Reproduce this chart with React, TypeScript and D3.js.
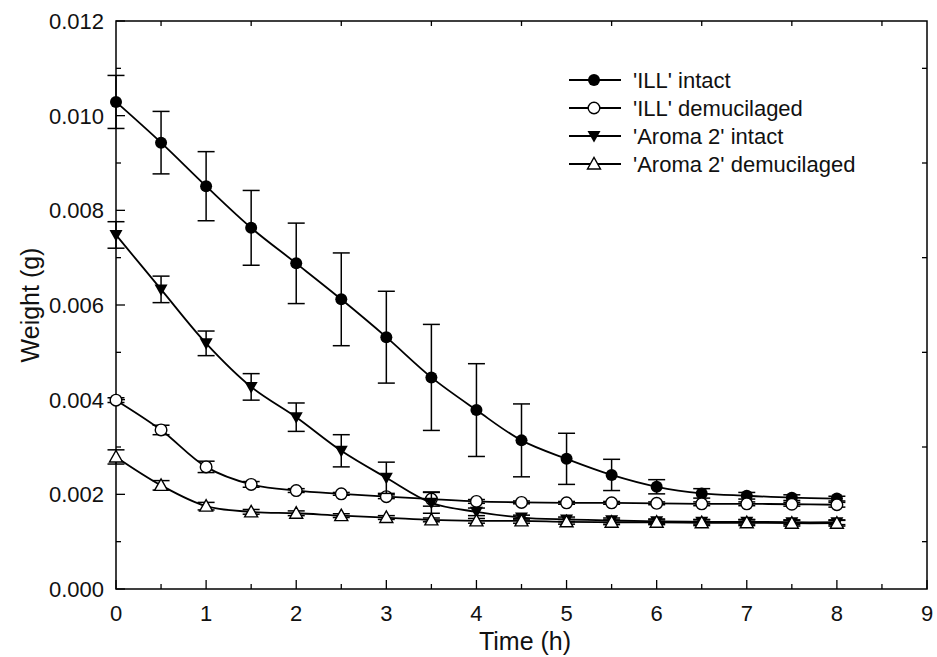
import React from "react";
import * as d3 from "d3";

const times = [0, 0.5, 1, 1.5, 2, 2.5, 3, 3.5, 4, 4.5, 5, 5.5, 6, 6.5, 7, 7.5, 8];

const illIntact = [0.01029, 0.00943, 0.00851, 0.00763, 0.00688, 0.00612, 0.00532, 0.00447, 0.00378, 0.00314, 0.00275, 0.00241, 0.00216, 0.00202, 0.00197, 0.00193, 0.00191];
const illIntactErr = [0.00056, 0.00066, 0.00073, 0.00079, 0.00085, 0.00098, 0.00097, 0.00112, 0.00098, 0.00077, 0.00054, 0.00033, 0.00015, 0.0001, 0.00007, 0.00006, 0.00005];

const illDemuc = [0.00399, 0.00336, 0.00258, 0.00221, 0.00208, 0.00201, 0.00195, 0.0019, 0.00185, 0.00183, 0.00182, 0.00182, 0.00181, 0.0018, 0.0018, 0.00179, 0.00178];
const illDemucErr = [0.00005, 0.0001, 0.00012, 0.00006, 0.00004, 0.00003, 0.00004, 0.00015, 0.00004, 0.00003, 0.00003, 0.00003, 0.00003, 0.00004, 0.00004, 0.00004, 0.00005];

const aromaIntact = [0.00748, 0.00633, 0.00519, 0.00427, 0.00363, 0.00292, 0.00235, 0.00182, 0.00163, 0.00151, 0.00147, 0.00145, 0.00143, 0.00142, 0.00142, 0.00141, 0.00141];
const aromaIntactErr = [0.00028, 0.00028, 0.00026, 0.00028, 0.0003, 0.00034, 0.00033, 0.00022, 0.00008, 0.00005, 0.00005, 0.00005, 0.00005, 0.00005, 0.00005, 0.00005, 0.00005];

const aromaDemuc = [0.00279, 0.00219, 0.00175, 0.00163, 0.0016, 0.00155, 0.00151, 0.00146, 0.00144, 0.00144, 0.00142, 0.00141, 0.00141, 0.0014, 0.0014, 0.00139, 0.00139];
const aromaDemucErr = [0.00015, 0.0001, 0.00008, 0.00005, 0.00005, 0.00004, 0.00004, 0.00004, 0.00005, 0.00005, 0.00005, 0.00005, 0.00005, 0.00006, 0.00006, 0.00006, 0.00006];

const seriesNames = ["'ILL' intact", "'ILL' demucilaged", "'Aroma 2' intact", "'Aroma 2' demucilaged"];

const xTicks = [0, 1, 2, 3, 4, 5, 6, 7, 8, 9];
const yTicks = [0, 0.002, 0.004, 0.006, 0.008, 0.01, 0.012];

const font = "'Liberation Sans', Arial, sans-serif";

const left = 116, right = 927, top = 21, bottom = 589;

function Marker({ kind, x, y }: { kind: string; x: number; y: number }) {
  if (kind === "filledCircle") return <circle cx={x} cy={y} r={6} fill="black" />;
  if (kind === "openCircle") return <circle cx={x} cy={y} r={5.8} fill="white" stroke="black" strokeWidth={1.4} />;
  if (kind === "downTri")
    return <path d={`M${x - 6.5},${y - 5} L${x + 6.5},${y - 5} L${x},${y + 6.5} Z`} fill="black" />;
  return (
    <path d={`M${x - 6.5},${y + 5} L${x + 6.5},${y + 5} L${x},${y - 6.5} Z`} fill="white" stroke="black" strokeWidth={1.4} />
  );
}

export default function App() {
  const x = d3.scaleLinear().domain([0, 9]).range([left, right]);
  const y = d3.scaleLinear().domain([0, 0.012]).range([bottom, top]);

  const series = [
    { name: seriesNames[0], values: illIntact, err: illIntactErr, kind: "filledCircle" },
    { name: seriesNames[1], values: illDemuc, err: illDemucErr, kind: "openCircle" },
    { name: seriesNames[2], values: aromaIntact, err: aromaIntactErr, kind: "downTri" },
    { name: seriesNames[3], values: aromaDemuc, err: aromaDemucErr, kind: "upTri" },
  ];

  const line = d3
    .line<number>()
    .x((_, i) => x(times[i]))
    .y((d) => y(d))
    .curve(d3.curveCatmullRom.alpha(0.5));

  const minorX = d3.range(0.5, 9, 1);
  const minorY = d3.range(0.001, 0.012, 0.002);

  return (
    <svg width={937} height={657} style={{ position: "absolute", left: 0, top: 0, display: "block" }}>
      <rect width={937} height={657} fill="white" />
      {/* frame */}
      <rect x={left} y={top} width={right - left} height={bottom - top} fill="none" stroke="black" strokeWidth={1.5} />

      {/* bottom axis */}
      {xTicks.map((t) => (
        <g key={"xt" + t}>
          <line x1={x(t)} x2={x(t)} y1={bottom} y2={bottom - 9} stroke="black" strokeWidth={1.3} />
          <text x={x(t)} y={621} textAnchor="middle" fontFamily={font} fontSize={22} fill="#111">
            {t}
          </text>
        </g>
      ))}
      {minorX.map((t) => (
        <g key={"xm" + t}>
          <line x1={x(t)} x2={x(t)} y1={bottom} y2={bottom - 5} stroke="black" strokeWidth={1.3} />
          <line x1={x(t)} x2={x(t)} y1={top} y2={top + 5} stroke="black" strokeWidth={1.3} />
        </g>
      ))}

      {/* left axis */}
      {yTicks.map((t) => (
        <g key={"yt" + t}>
          <line x1={left} x2={left + 9} y1={y(t)} y2={y(t)} stroke="black" strokeWidth={1.3} />
          <text x={104} y={y(t) + 8} textAnchor="end" fontFamily={font} fontSize={22} fill="#111">
            {d3.format(".3f")(t)}
          </text>
        </g>
      ))}
      {minorY.map((t) => (
        <g key={"ym" + t}>
          <line x1={left} x2={left + 5} y1={y(t)} y2={y(t)} stroke="black" strokeWidth={1.3} />
          <line x1={right} x2={right - 5} y1={y(t)} y2={y(t)} stroke="black" strokeWidth={1.3} />
        </g>
      ))}

      {/* axis titles */}
      <text x={525} y={650} textAnchor="middle" fontFamily={font} fontSize={25} fill="#111">
        Time (h)
      </text>
      <text
        transform={`translate(39,${(top + bottom) / 2}) rotate(-90)`}
        textAnchor="middle"
        fontFamily={font}
        fontSize={25}
        fill="#111"
      >
        Weight (g)
      </text>

      {/* series */}
      {series.map((s) => (
        <g key={s.name}>
          <path d={line(s.values) || ""} fill="none" stroke="black" strokeWidth={1.8} />
          {s.values.map((v, i) => {
            const cx = x(times[i]);
            const e = s.err[i];
            return (
              <g key={i} stroke="black" strokeWidth={1.5}>
                <line x1={cx} x2={cx} y1={y(v + e)} y2={y(v - e)} />
                <line x1={cx - 8.5} x2={cx + 8.5} y1={y(v + e)} y2={y(v + e)} />
                <line x1={cx - 8.5} x2={cx + 8.5} y1={y(v - e)} y2={y(v - e)} />
              </g>
            );
          })}
          {s.values.map((v, i) => (
            <Marker key={"m" + i} kind={s.kind} x={x(times[i])} y={y(v)} />
          ))}
        </g>
      ))}

      {/* legend */}
      {series.map((s, i) => {
        const ly = 80 + i * 28;
        return (
          <g key={"lg" + i}>
            <line x1={569} x2={621} y1={ly} y2={ly} stroke="black" strokeWidth={2} />
            <Marker kind={s.kind} x={594} y={ly} />
            <text x={633} y={ly + 8} fontFamily={font} fontSize={22} fill="#111">
              {s.name}
            </text>
          </g>
        );
      })}
    </svg>
  );
}
